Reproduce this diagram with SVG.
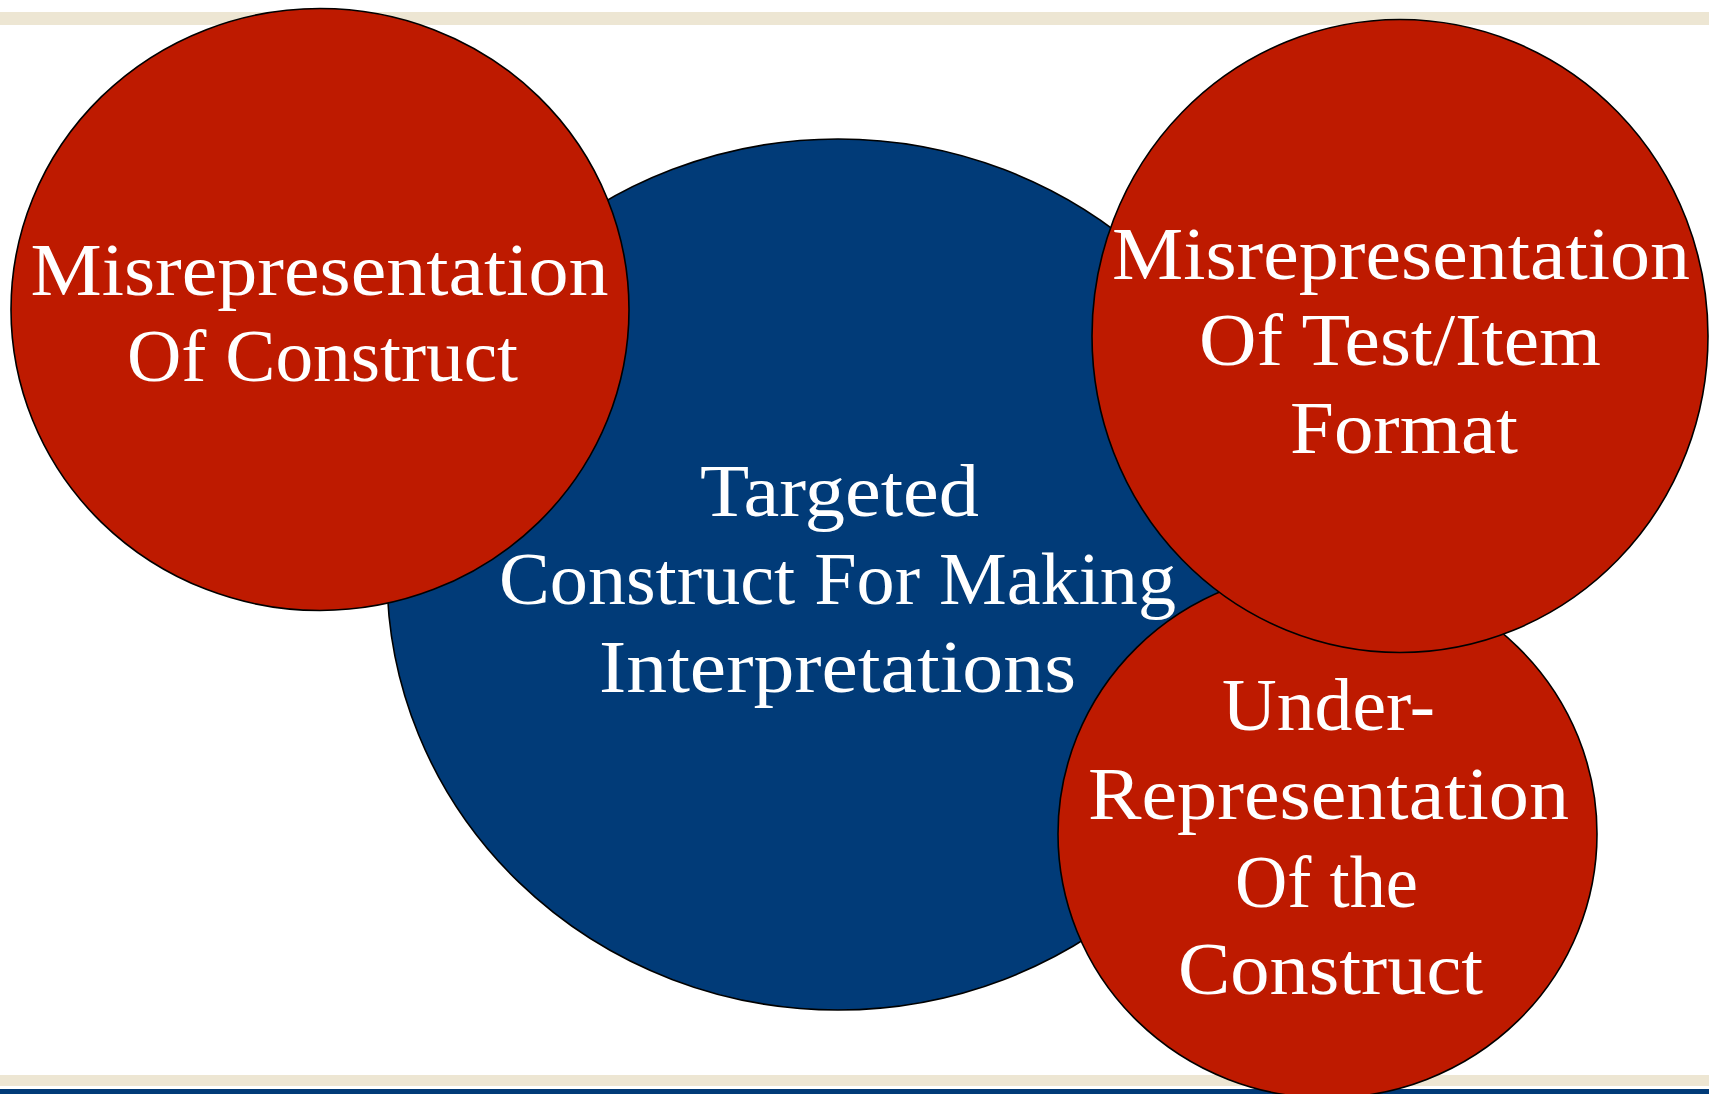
<svg xmlns="http://www.w3.org/2000/svg" width="1709" height="1094" viewBox="0 0 1709 1094">
<style>
.red{fill:#BE1A00;stroke:#000;stroke-width:1.6}
.blue{fill:#013B78;stroke:#000;stroke-width:1.6}
.t{font-family:"Liberation Serif","Times New Roman",serif;font-size:74px;fill:#fff}
</style>
<rect width="1709" height="1094" fill="#fff"/>
<g id="bands">
<rect x="0" y="12" width="1709" height="13" fill="#EDE6D3"/>
<rect x="0" y="1075" width="1709" height="11" fill="#EDE6D3"/>
<rect x="0" y="1089" width="1709" height="5" fill="#013B78"/>
</g>
<g id="connectors"></g>
<g id="targeted">
<ellipse class="blue" cx="838" cy="574.5" rx="451" ry="435.5"/>
<text class="t" x="700" y="516" textLength="279" lengthAdjust="spacingAndGlyphs">Targeted</text>
<text class="t" x="499" y="604" textLength="677" lengthAdjust="spacingAndGlyphs">Construct For Making</text>
<text class="t" x="599" y="692" textLength="477" lengthAdjust="spacingAndGlyphs">Interpretations</text>
</g>
<g id="misrep-construct">
<ellipse class="red" cx="320" cy="309.5" rx="309" ry="301"/>
<text class="t" x="30.5" y="294.5" textLength="578" lengthAdjust="spacingAndGlyphs">Misrepresentation</text>
<text class="t" x="127" y="381" textLength="391" lengthAdjust="spacingAndGlyphs">Of Construct</text>
</g>
<g id="under-rep">
<ellipse class="red" cx="1327.5" cy="834" rx="269.5" ry="264"/>
<text class="t" x="1222" y="730" textLength="213" lengthAdjust="spacingAndGlyphs">Under-</text>
<text class="t" x="1088" y="819" textLength="481" lengthAdjust="spacingAndGlyphs">Representation</text>
<text class="t" x="1235" y="907" textLength="183" lengthAdjust="spacingAndGlyphs">Of the</text>
<text class="t" x="1178" y="994" textLength="305" lengthAdjust="spacingAndGlyphs">Construct</text>
</g>
<g id="misrep-format">
<ellipse class="red" cx="1400" cy="336" rx="308" ry="316.5"/>
<text class="t" x="1112" y="279" textLength="578" lengthAdjust="spacingAndGlyphs">Misrepresentation</text>
<text class="t" x="1199" y="365" textLength="402" lengthAdjust="spacingAndGlyphs">Of Test/Item</text>
<text class="t" x="1290" y="453" textLength="228" lengthAdjust="spacingAndGlyphs">Format</text>
</g>
</svg>
